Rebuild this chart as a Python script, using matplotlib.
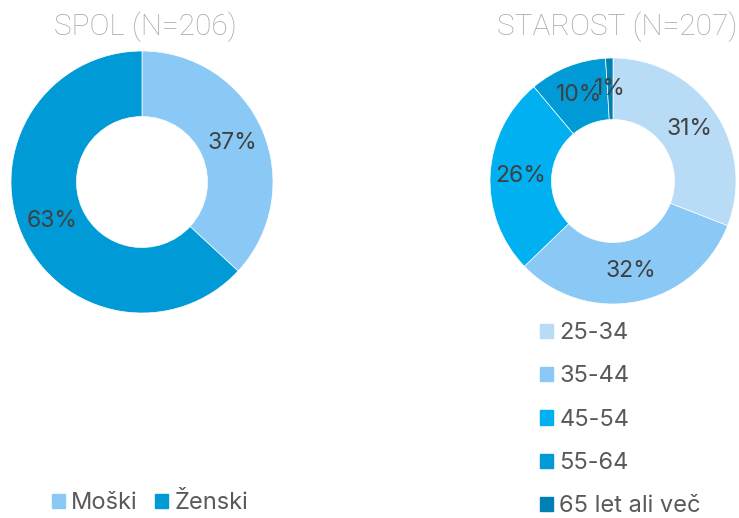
import matplotlib
matplotlib.use("Agg")
import matplotlib.pyplot as plt
from matplotlib.patches import Patch

plt.rcParams['font.family'] = ['Inter', 'DejaVu Sans']

# Data
spol_labels = ["Moški", "Ženski"]
spol_values = [76, 130]
spol_colors = ["#8AC8F5", "#009BD6"]

starost_labels = ["25-34", "35-44", "45-54", "55-64", "65 let ali več"]
starost_values = [64, 66, 54, 21, 2]
starost_colors = ["#B8DBF6", "#8AC8F5", "#00B0F0", "#009BD6", "#0080B3"]

W, H = 739, 518
fig = plt.figure(figsize=(W / 100, H / 100), dpi=100)

def px_axes(cx, cy, r):
    return fig.add_axes([(cx - r) / W, (H - cy - r) / H, 2 * r / W, 2 * r / H])

def donut(ax, values, colors):
    wedges, texts, autotexts = ax.pie(
        values, colors=colors, startangle=90, counterclock=False,
        radius=1.0, autopct=lambda p: f"{p:.0f}%", pctdistance=0.75,
        wedgeprops=dict(width=0.5, edgecolor="white", linewidth=0.5),
        textprops=dict(color="#404040", fontsize=16.5))
    ax.set_xlim(-1, 1)
    ax.set_ylim(-1, 1)
    ax.set_aspect("equal")
    ax.axis("off")
    return wedges

ax1 = px_axes(142, 182, 131)
w1 = donut(ax1, spol_values, spol_colors)
ax2 = px_axes(613, 181, 123)
w2 = donut(ax2, starost_values, starost_colors)

title_kw = dict(color="#A8A8A8", fontsize=21.5, family=["Roboto", "DejaVu Sans"], weight=100,
                ha="center", va="center")
fig.text(145 / W, 1 - 27 / H, "SPOL (N=206)", **title_kw)
fig.text(617 / W, 1 - 27 / H, "STAROST (N=207)", **title_kw)

leg1 = fig.legend([Patch(color=c) for c in spol_colors], spol_labels,
                  loc="center left", bbox_to_anchor=(31 / W, 1 - 503 / H),
                  ncol=2, frameon=False, fontsize=17, handlelength=0.55,
                  handleheight=0.55, handletextpad=0.25, columnspacing=0.75,
                  labelcolor="#595959")
leg2 = fig.legend([Patch(color=c) for c in starost_colors], starost_labels,
                  loc="upper left", bbox_to_anchor=(519 / W, 1 - 301 / H),
                  ncol=1, frameon=False, fontsize=17, handlelength=0.55,
                  handleheight=0.55, handletextpad=0.25, labelspacing=0.9,
                  labelcolor="#595959")

fig.savefig("out.png", dpi=100, facecolor="white")
